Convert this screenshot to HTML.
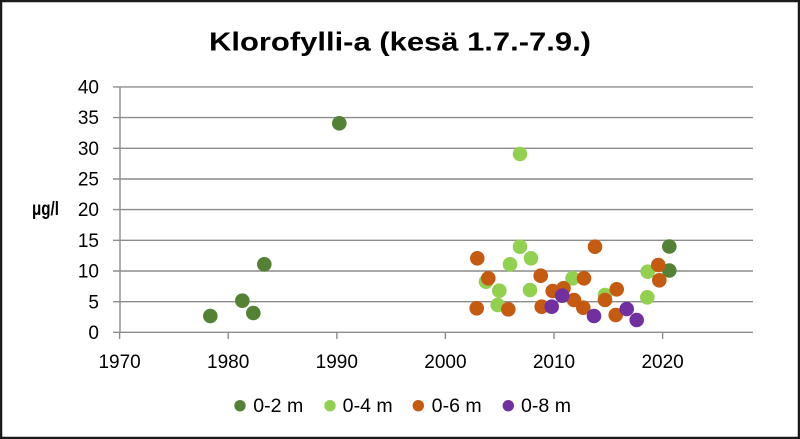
<!DOCTYPE html>
<html>
<head>
<meta charset="utf-8">
<style>
  html,body{margin:0;padding:0;background:#fff;}
  svg{display:block;}
  text{font-family:"Liberation Sans", Arial, sans-serif;fill:#000;}
</style>
</head>
<body>
<svg width="800" height="439" viewBox="0 0 800 439" xmlns="http://www.w3.org/2000/svg">
  <rect x="0" y="0" width="800" height="439" fill="#fff"/>
  <rect x="1" y="1" width="798" height="437" fill="none" stroke="#1a1a1a" stroke-width="2.5"/>

  <!-- Title -->
  <text x="209" y="50.5" font-size="26" font-weight="bold" textLength="382" lengthAdjust="spacingAndGlyphs">Klorofylli-a (kesä 1.7.-7.9.)</text>

  <!-- Gridlines -->
  <g stroke="#8c8c8c" stroke-width="1.4">
    <line x1="113" y1="86.9" x2="753" y2="86.9"/>
    <line x1="113" y1="117.6" x2="753" y2="117.6"/>
    <line x1="113" y1="148.3" x2="753" y2="148.3"/>
    <line x1="113" y1="179" x2="753" y2="179"/>
    <line x1="113" y1="209.6" x2="753" y2="209.6"/>
    <line x1="113" y1="240.3" x2="753" y2="240.3"/>
    <line x1="113" y1="271" x2="753" y2="271"/>
    <line x1="113" y1="301.7" x2="753" y2="301.7"/>
    <line x1="113" y1="332.3" x2="753" y2="332.3"/>
    <!-- y axis -->
    <line x1="120" y1="86.9" x2="120" y2="332.3"/>
    <!-- x ticks -->
    <line x1="119.6" y1="332.3" x2="119.6" y2="339"/>
    <line x1="228.2" y1="332.3" x2="228.2" y2="339"/>
    <line x1="336.8" y1="332.3" x2="336.8" y2="339"/>
    <line x1="445.4" y1="332.3" x2="445.4" y2="339"/>
    <line x1="554" y1="332.3" x2="554" y2="339"/>
    <line x1="662.6" y1="332.3" x2="662.6" y2="339"/>
  </g>

  <!-- Y labels -->
  <g font-size="19" text-anchor="end">
    <text x="99" y="93.5">40</text>
    <text x="99" y="124.2">35</text>
    <text x="99" y="154.9">30</text>
    <text x="99" y="185.6">25</text>
    <text x="99" y="216.2">20</text>
    <text x="99" y="246.9">15</text>
    <text x="99" y="277.6">10</text>
    <text x="99" y="308.3">5</text>
    <text x="99" y="338.9">0</text>
  </g>
  <text x="32" y="215" font-size="19" font-weight="bold" textLength="27" lengthAdjust="spacingAndGlyphs">μg/l</text>

  <!-- X labels -->
  <g font-size="19" text-anchor="middle">
    <text x="119.6" y="368">1970</text>
    <text x="228.2" y="368">1980</text>
    <text x="336.8" y="368">1990</text>
    <text x="445.4" y="368">2000</text>
    <text x="554" y="368">2010</text>
    <text x="662.6" y="368">2020</text>
  </g>

  <!-- 0-2 m -->
  <g fill="#548235">
    <circle cx="210.3" cy="316" r="7.3"/>
    <circle cx="242.3" cy="300.7" r="7.3"/>
    <circle cx="253.3" cy="313" r="7.3"/>
    <circle cx="264.3" cy="264.3" r="7.3"/>
    <circle cx="339.3" cy="123.3" r="7.3"/>
    <circle cx="669.3" cy="246.5" r="7.3"/>
    <circle cx="669.3" cy="270.5" r="7.3"/>
  </g>
  <!-- 0-4 m -->
  <g fill="#92D050">
    <circle cx="520" cy="154" r="7.3"/>
    <circle cx="520" cy="246.7" r="7.3"/>
    <circle cx="531" cy="258.3" r="7.3"/>
    <circle cx="510" cy="264.3" r="7.3"/>
    <circle cx="486" cy="281.7" r="7.3"/>
    <circle cx="499.3" cy="290.7" r="7.3"/>
    <circle cx="497.7" cy="305" r="7.3"/>
    <circle cx="530" cy="290" r="7.3"/>
    <circle cx="572.5" cy="278.3" r="7.3"/>
    <circle cx="605" cy="295" r="7.3"/>
    <circle cx="647.7" cy="271.7" r="7.3"/>
    <circle cx="647.3" cy="297.3" r="7.3"/>
  </g>
  <!-- 0-6 m -->
  <g fill="#C55A11">
    <circle cx="477.3" cy="258.3" r="7.3"/>
    <circle cx="488.3" cy="278.3" r="7.3"/>
    <circle cx="476.7" cy="308.3" r="7.3"/>
    <circle cx="508.3" cy="309.3" r="7.3"/>
    <circle cx="540.7" cy="275.7" r="7.3"/>
    <circle cx="541.7" cy="306.7" r="7.3"/>
    <circle cx="552.7" cy="291" r="7.3"/>
    <circle cx="563.5" cy="288.3" r="7.3"/>
    <circle cx="574" cy="300" r="7.3"/>
    <circle cx="584" cy="278.3" r="7.3"/>
    <circle cx="583.3" cy="307.7" r="7.3"/>
    <circle cx="595" cy="246.7" r="7.3"/>
    <circle cx="605" cy="300" r="7.3"/>
    <circle cx="616.7" cy="289.3" r="7.3"/>
    <circle cx="615.7" cy="315" r="7.3"/>
    <circle cx="658.3" cy="265" r="7.3"/>
    <circle cx="659.3" cy="280.3" r="7.3"/>
  </g>
  <!-- 0-8 m -->
  <g fill="#7030A0">
    <circle cx="551.7" cy="306.7" r="7.3"/>
    <circle cx="562.2" cy="295.7" r="7.3"/>
    <circle cx="594" cy="316" r="7.3"/>
    <circle cx="626.7" cy="309" r="7.3"/>
    <circle cx="636.7" cy="320" r="7.3"/>
  </g>

  <!-- Legend -->
  <circle cx="240" cy="405.7" r="5.7" fill="#548235"/>
  <circle cx="330" cy="405.7" r="5.7" fill="#92D050"/>
  <circle cx="418.3" cy="405.7" r="5.7" fill="#C55A11"/>
  <circle cx="508.3" cy="405.7" r="5.7" fill="#7030A0"/>
  <g font-size="19">
    <text x="253.3" y="412" textLength="50" lengthAdjust="spacingAndGlyphs">0-2 m</text>
    <text x="342.7" y="412" textLength="50" lengthAdjust="spacingAndGlyphs">0-4 m</text>
    <text x="431.7" y="412" textLength="50" lengthAdjust="spacingAndGlyphs">0-6 m</text>
    <text x="521" y="412" textLength="50" lengthAdjust="spacingAndGlyphs">0-8 m</text>
  </g>
</svg>
</body>
</html>
